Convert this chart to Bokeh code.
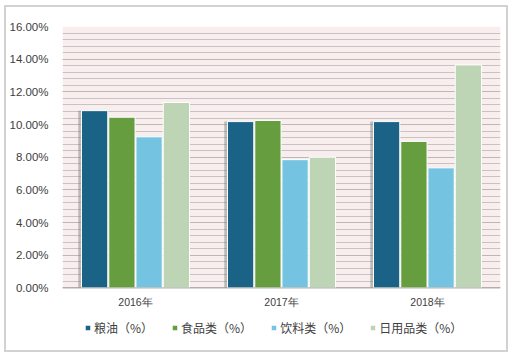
from bokeh.plotting import figure
from bokeh.models import (ColumnDataSource, FactorRange, Legend, LegendItem, FixedTicker,
                          CustomJSTickFormatter, Range1d, BoxAnnotation, Span)
from bokeh.transform import dodge
from bokeh.core.properties import value
from bokeh.embed import file_html
from bokeh.resources import INLINE

years = ["2016年", "2017年", "2018年"]
series = ["粮油（%）", "食品类（%）", "饮料类（%）", "日用品类（%）"]
grain_oil = [10.85, 10.18, 10.18]
food = [10.45, 10.25, 8.97]
drinks = [9.25, 7.85, 7.35]
daily = [11.35, 8.0, 13.65]
y_ticks = [0, 2, 4, 6, 8, 10, 12, 14, 16]
colors = ["#1b6386", "#669e3f", "#74c3e0", "#bdd5b4"]

src = ColumnDataSource(dict(year=years, s0=grain_oil, s1=food, s2=drinks, s3=daily))

p = figure(x_range=FactorRange(*years), y_range=Range1d(-3.95, 16), width=504, height=347,
           output_backend="svg", toolbar_location=None,
           min_border_left=54, min_border_right=10, min_border_top=19, min_border_bottom=2,
           background_fill_color="white", border_fill_color="white",
           outline_line_color=None,
           styles={"border": "2px solid #d2d2d2", "box-sizing": "border-box",
                   "margin-left": "4px", "margin-top": "5px"})
p.x_range.range_padding = 0
p.xaxis.visible = False

# pink plot area
p.add_layout(BoxAnnotation(bottom=0, top=16, fill_color="#f8eeee", fill_alpha=1,
                           line_color=None, level="image"))

minor = [m * 0.4 for m in range(41)]
p.xgrid.grid_line_color = None
p.ygrid.ticker = FixedTicker(ticks=y_ticks, minor_ticks=minor)
p.ygrid.grid_line_color = "#bfb6b6"
p.ygrid.minor_grid_line_color = "#c9c2c2"
p.yaxis.ticker = FixedTicker(ticks=y_ticks)
p.yaxis.formatter = CustomJSTickFormatter(code="return tick.toFixed(2) + '%';")
p.yaxis.axis_line_color = None
p.yaxis.major_tick_line_color = None
p.yaxis.minor_tick_line_color = None
p.yaxis.major_label_text_font = "Liberation Sans"
p.yaxis.major_label_text_font_size = "11.5px"
p.yaxis.major_label_text_color = "#404040"
p.yaxis.major_label_standoff = 8

# category axis line and labels at zero
p.add_layout(Span(location=0, dimension="width", line_color="#a8a8a8", line_width=1))
p.text(x="year", y=0, text="year", source=src, text_align="center", text_baseline="top",
       y_offset=8, text_font=value("Liberation Sans"), text_font_size="10.5px",
       text_color="#404040")

w = 0.18
offs = [-0.28, -0.093, 0.093, 0.28]
p.vbar(x=dodge("year", offs[0] - 0.012, range=p.x_range), top="s0", width=w + 0.02, source=src,
       fill_color="#7a7a7a", fill_alpha=0.45, line_color=None)
renderers = []
for i, key in enumerate(["s0", "s1", "s2", "s3"]):
    r = p.vbar(x=dodge("year", offs[i], range=p.x_range), top=key, width=w, source=src,
               fill_color=colors[i], line_color="white", line_width=1)
    renderers.append(r)

legend = Legend(items=[LegendItem(label=series[i], renderers=[renderers[i]]) for i in range(4)],
                orientation="horizontal", location=(22, 16),
                label_text_font="Noto Sans CJK SC", label_text_font_size="12px",
                label_text_color="#404040", glyph_width=7, glyph_height=7,
                spacing=18, border_line_color=None, background_fill_alpha=0,
                margin=0, padding=0, label_standoff=3, label_height=14)
p.add_layout(legend, "center")

open("out.html", "w").write(file_html(p, INLINE))
